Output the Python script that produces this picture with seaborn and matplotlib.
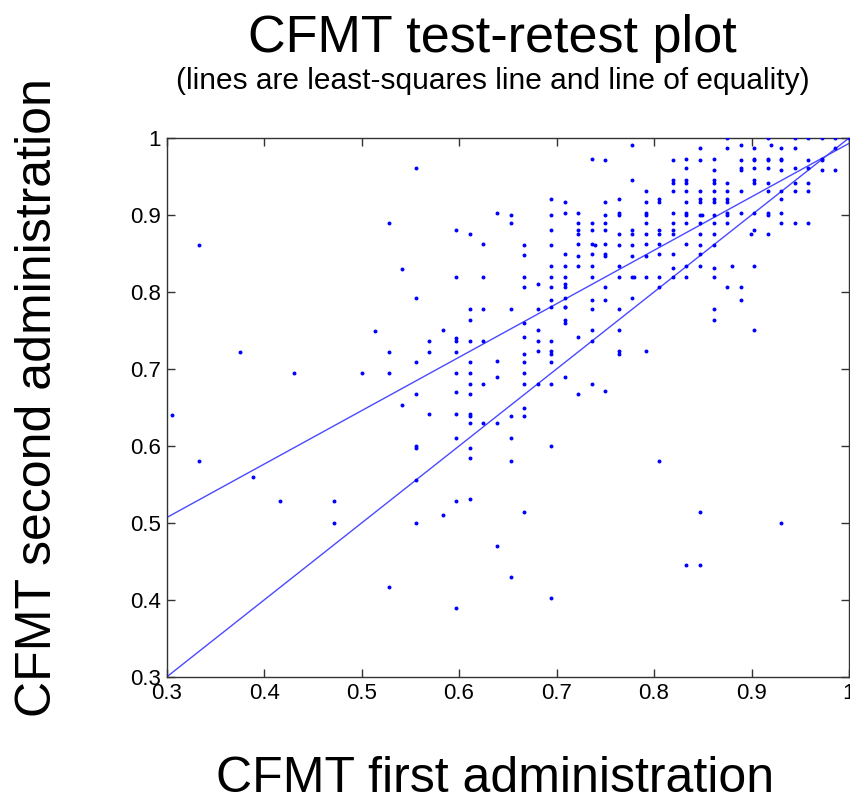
import matplotlib
matplotlib.use("Agg")
import matplotlib.pyplot as plt
import seaborn as sns
import pandas as pd

# ---- data (proportion correct) ----
first_cols = [0.3056, 0.3333, 0.375, 0.3889, 0.4167, 0.4306, 0.4722, 0.5, 0.5139,
              0.5278, 0.5417, 0.5556, 0.5694, 0.5833, 0.5972, 0.6111, 0.625, 0.6389,
              0.6528, 0.6667, 0.6806, 0.6944, 0.7083, 0.7222, 0.7361, 0.7395, 0.75,
              0.7639, 0.7778, 0.7794, 0.7917, 0.8056, 0.8194, 0.8333, 0.8472, 0.8495,
              0.8611, 0.875, 0.88, 0.8889, 0.8999, 0.9028, 0.9167, 0.9199, 0.9306,
              0.9444, 0.9583, 0.9722, 0.9861, 1.0]

second_by_col = [
    [0.640],
    [0.861, 0.580],
    [0.722],
    [0.560],
    [0.528],
    [0.695],
    [0.528, 0.500],
    [0.695],
    [0.750],
    [0.889, 0.722, 0.695, 0.417],
    [0.830, 0.653],
    [0.961, 0.792, 0.709, 0.667, 0.600, 0.598, 0.556, 0.500],
    [0.737, 0.722, 0.641],
    [0.751, 0.510],
    [0.880, 0.820, 0.740, 0.737, 0.722, 0.695, 0.670, 0.641, 0.611, 0.528, 0.389],
    [0.875, 0.778, 0.764, 0.737, 0.709, 0.695, 0.681, 0.667, 0.641, 0.639, 0.630, 0.598, 0.584, 0.531],
    [0.862, 0.820, 0.778, 0.737, 0.681, 0.630],
    [0.903, 0.710, 0.690, 0.630, 0.470],
    [0.900, 0.890, 0.778, 0.639, 0.611, 0.580, 0.430],
    [0.861, 0.848, 0.820, 0.806, 0.760, 0.741, 0.720, 0.709, 0.695, 0.681, 0.650, 0.639, 0.514],
    [0.810, 0.778, 0.751, 0.737, 0.723, 0.681],
    [0.921, 0.900, 0.880, 0.861, 0.834, 0.820, 0.806, 0.790, 0.780, 0.737, 0.723, 0.720, 0.709, 0.681, 0.600, 0.403],
    [0.917, 0.903, 0.850, 0.834, 0.820, 0.810, 0.806, 0.792, 0.780, 0.780, 0.764, 0.760, 0.690],
    [0.903, 0.890, 0.880, 0.875, 0.862, 0.847, 0.834, 0.741, 0.667],
    [0.973, 0.890, 0.880, 0.862, 0.850, 0.834, 0.820, 0.790, 0.778, 0.751, 0.737, 0.681],
    [0.861],
    [0.971, 0.917, 0.900, 0.889, 0.880, 0.862, 0.850, 0.847, 0.806, 0.790, 0.671],
    [0.921, 0.903, 0.900, 0.875, 0.861, 0.834, 0.820, 0.778, 0.751, 0.723, 0.720],
    [0.991, 0.946, 0.880, 0.875, 0.861, 0.847, 0.820, 0.792],
    [0.820],
    [0.931, 0.917, 0.903, 0.900, 0.890, 0.875, 0.862, 0.847, 0.820, 0.723],
    [0.921, 0.917, 0.880, 0.875, 0.862, 0.850, 0.820, 0.806, 0.580],
    [0.971, 0.946, 0.941, 0.931, 0.903, 0.889, 0.880, 0.875, 0.850, 0.831, 0.820],
    [0.973, 0.961, 0.946, 0.941, 0.931, 0.917, 0.903, 0.900, 0.889, 0.862, 0.834, 0.820, 0.445],
    [0.987, 0.971, 0.931, 0.921, 0.917, 0.900, 0.889, 0.875, 0.861, 0.850, 0.834, 0.514, 0.445],
    [0.900],
    [0.973, 0.959, 0.946, 0.941, 0.931, 0.921, 0.917, 0.900, 0.889, 0.875, 0.861, 0.831, 0.820, 0.778, 0.764],
    [1.0, 0.987, 0.941, 0.931, 0.921, 0.917, 0.903, 0.900, 0.889, 0.806],
    [0.834],
    [0.991, 0.971, 0.961, 0.959, 0.931, 0.903, 0.806, 0.790],
    [0.875],
    [0.987, 0.973, 0.971, 0.961, 0.946, 0.941, 0.903, 0.880, 0.834, 0.751],
    [1.0, 0.973, 0.971, 0.961, 0.941, 0.931, 0.903, 0.900, 0.875],
    [0.991],
    [0.987, 0.973, 0.971, 0.959, 0.931, 0.921, 0.903, 0.889, 0.500],
    [1.0, 0.987, 0.961, 0.941, 0.931, 0.890],
    [1.0, 0.971, 0.961, 0.941, 0.931, 0.889],
    [1.0, 0.973, 0.971, 0.959],
    [1.0, 0.987, 0.959],
    [1.0],
]

# least-squares line endpoints and line of equality
line_x = [0.3, 1.0]
ls_line_y = [0.507, 0.993]
equality_y = [0.3, 1.0]

ticks = [0.3, 0.4, 0.5, 0.6, 0.7, 0.8, 0.9, 1.0]
tick_labels = ["0.3", "0.4", "0.5", "0.6", "0.7", "0.8", "0.9", "1"]

title = "CFMT test-retest plot"
subtitle = "(lines are least-squares line and line of equality)"
xlabel = "CFMT first administration"
ylabel = "CFMT second administration"

# ---- build table ----
xs, ys = [], []
for xv, col in zip(first_cols, second_by_col):
    for yv in col:
        xs.append(xv)
        ys.append(yv)
df = pd.DataFrame({"first": xs, "second": ys})
lines = pd.DataFrame({"x": line_x + line_x,
                      "y": ls_line_y + equality_y,
                      "which": ["ls", "ls", "eq", "eq"]})

sns.set_theme(style="ticks")
plt.rcParams["font.family"] = ["Liberation Sans", "DejaVu Sans"]
plt.rcParams["text.color"] = "black"
plt.rcParams["xtick.labelcolor"] = "black"
plt.rcParams["ytick.labelcolor"] = "black"

fig = plt.figure(figsize=(8.5, 8.01), dpi=100)
ax = fig.add_axes([166.6 / 850, 1 - 677 / 801, (849 - 166.6) / 850, (677 - 138) / 801])

sns.lineplot(data=lines, x="x", y="y", units="which", estimator=None,
             color="#4a4aff", linewidth=1.0, ax=ax, sort=False)
sns.scatterplot(data=df, x="first", y="second", color="#0000ff", s=8,
                linewidth=0, marker="o", ax=ax, zorder=3)

ax.set_xlim(0.3, 1.0)
ax.set_ylim(0.3, 1.0)
ax.set_xticks(ticks)
ax.set_yticks(ticks)
ax.set_xticklabels(tick_labels, fontsize=16, color="black")
ax.set_yticklabels(tick_labels, fontsize=16, color="black")
ax.set_xlabel("")
ax.set_ylabel("")
for sp in ax.spines.values():
    sp.set_visible(True)
    sp.set_color("#333333")
    sp.set_linewidth(1.0)
ax.tick_params(direction="in", length=6, width=1, color="#333333",
               top=True, right=True, pad=4)

fig.text(492 / 850, 1 - 52 / 801, title, ha="center", va="baseline", fontsize=37.5,
         color="black")
fig.text(493 / 850, 1 - 89 / 801, subtitle, ha="center", va="baseline", fontsize=21.5,
         color="black")
fig.text(495 / 850, 1 - 792 / 801, xlabel, ha="center", va="baseline", fontsize=36,
         color="black")
fig.text(38 / 850, 1 - 398 / 801, ylabel, ha="center", va="center", rotation=90,
         fontsize=36, color="black")

fig.savefig("out.png", dpi=100)
